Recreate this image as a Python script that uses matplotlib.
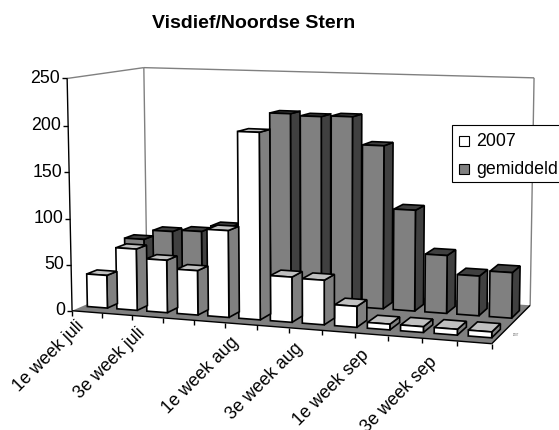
import numpy as np
import matplotlib
matplotlib.use("Agg")
import matplotlib.pyplot as plt
from matplotlib.patches import Polygon, Rectangle

plt.rcParams['font.family'] = ['Liberation Sans', 'DejaVu Sans']

title = "Visdief/Noordse Stern"
categories = ["1e week juli", "", "3e week juli", "", "", "1e week aug", "",
              "3e week aug", "", "1e week sep", "", "3e week sep", ""]
series_2007 = [36, 67, 57, 48, 93, 198, 48, 47, 22, 6, 6, 6, 6]
series_gem = [60, 71, 73, 80, 130, 209, 207, 208, 178, 110, 63, 43, 49]
y_ticks = [0, 50, 100, 150, 200, 250]
y_max = 250

# camera fit: (category 0..1, depth 0..1, height 0..1) -> image pixels
cal_world = np.array([(0,0,0),(0,0,1),(0,1,0),(0,1,1),(1,1,0),(1,1,1),(1,0,0)], float)
cal_pix = np.array([(72,309),(67,79),(147,280),(144,67),(530,304),(534,78),(492,345)], float)
A = []
for (X, Y, Z), (u, v) in zip(cal_world, cal_pix):
    A.append([X, Y, Z, 1, 0, 0, 0, 0, -u*X, -u*Y, -u*Z, -u])
    A.append([0, 0, 0, 0, X, Y, Z, 1, -v*X, -v*Y, -v*Z, -v])
P = np.linalg.svd(np.array(A))[2][-1].reshape(3, 4)

def proj(cat, depth, val):
    h = P @ np.array([cat/len(categories), depth, val/y_max, 1.0])
    return h[0]/h[2], h[1]/h[2]

fig = plt.figure(figsize=(5.59, 4.30), dpi=100)
ax = fig.add_axes([0, 0, 1, 1])
ax.set_xlim(0, 559)
ax.set_ylim(430, 0)
ax.axis('off')

def line(a, b, color, lw=1.0, z=1):
    ax.plot([a[0], b[0]], [a[1], b[1]], color=color, lw=lw, zorder=z, solid_capstyle='butt')

n = len(categories)
WALL = '#808080'
# floor
ax.add_patch(Polygon([proj(0,0,0), proj(n,0,0), proj(n,1,0), proj(0,1,0)], fc='#808080', ec='none', zorder=1))
# walls
line(proj(0,0,y_max), proj(0,1,y_max), WALL)
line(proj(0,1,y_max), proj(n,1,y_max), WALL)
line(proj(0,1,y_max), proj(0,1,0), WALL)
line(proj(n,1,y_max), proj(n,1,0), WALL)

BAR_W = 0.68
DEPTH_LEFT, DEPTH_RIGHT = 0.13, 0.21
def bar(i, d0, val, front, side, top, z):
    x0 = i + (1-BAR_W)/2
    x1 = x0 + BAR_W
    d1 = d0 + DEPTH_LEFT + (DEPTH_RIGHT-DEPTH_LEFT)*i/(n-1)
    for pts, col in (([(x1,d0,0),(x1,d1,0),(x1,d1,val),(x1,d0,val)], side),
                     ([(x0,d0,val),(x1,d0,val),(x1,d1,val),(x0,d1,val)], top),
                     ([(x0,d0,0),(x1,d0,0),(x1,d0,val),(x0,d0,val)], front)):
        ax.add_patch(Polygon([proj(*p) for p in pts], fc=col, ec='black', lw=1.2,
                             joinstyle='miter', zorder=z))

for i in range(n-1, -1, -1):
    bar(i, 0.63, series_gem[i], '#808080', '#404040', '#404040', 2+(n-i)*0.001)
for i in range(n-1, -1, -1):
    bar(i, 0.13, series_2007[i], '#ffffff', '#808080', '#c0c0c0', 3+(n-i)*0.001)

# axes
line(proj(0,0,0), proj(0,0,y_max), 'black', 1.0, 4)
line(proj(0,0,0), proj(n,0,0), 'black', 1.0, 4)
line(proj(n,0,0), proj(n,1,0), 'black', 1.0, 4)
for t in y_ticks:
    a = proj(0,0,t)
    line((a[0]-5, a[1]), a, 'black', 1.0, 4)
    ax.text(a[0]-7, a[1], str(t), ha='right', va='center', fontsize=12.8, color='black')
for i in range(n+1):
    a = proj(i,0,0)
    line(a, (a[0], a[1]+5), 'black', 1.0, 4)
for i, lab in enumerate(categories):
    if lab:
        a = proj(i+0.5,0,0)
        ax.text(a[0]-11, a[1]+6+0.7*i, lab, rotation=45, rotation_mode='anchor', ha='right', va='top',
                fontsize=12.8, color='black')

ax.text(513, 335, "2007", fontsize=2, color='#555555', ha='left', va='center')

ax.text(254, 24, title, ha='center', va='center', fontsize=14, fontweight='bold')

# legend
ax.add_patch(Rectangle((452, 125), 120, 57, fc='white', ec='black', lw=0.8, zorder=5))
ax.add_patch(Rectangle((458.5, 136), 10.5, 10, fc='white', ec='black', lw=0.8, zorder=6))
ax.add_patch(Rectangle((458.5, 164), 10.5, 10, fc='#808080', ec='black', lw=0.8, zorder=6))
ax.text(476, 141, "2007", fontsize=12.8, va='center', zorder=6)
ax.text(476, 169, "gemiddeld", fontsize=12.8, va='center', zorder=6)

fig.savefig("out.png", dpi=100)
